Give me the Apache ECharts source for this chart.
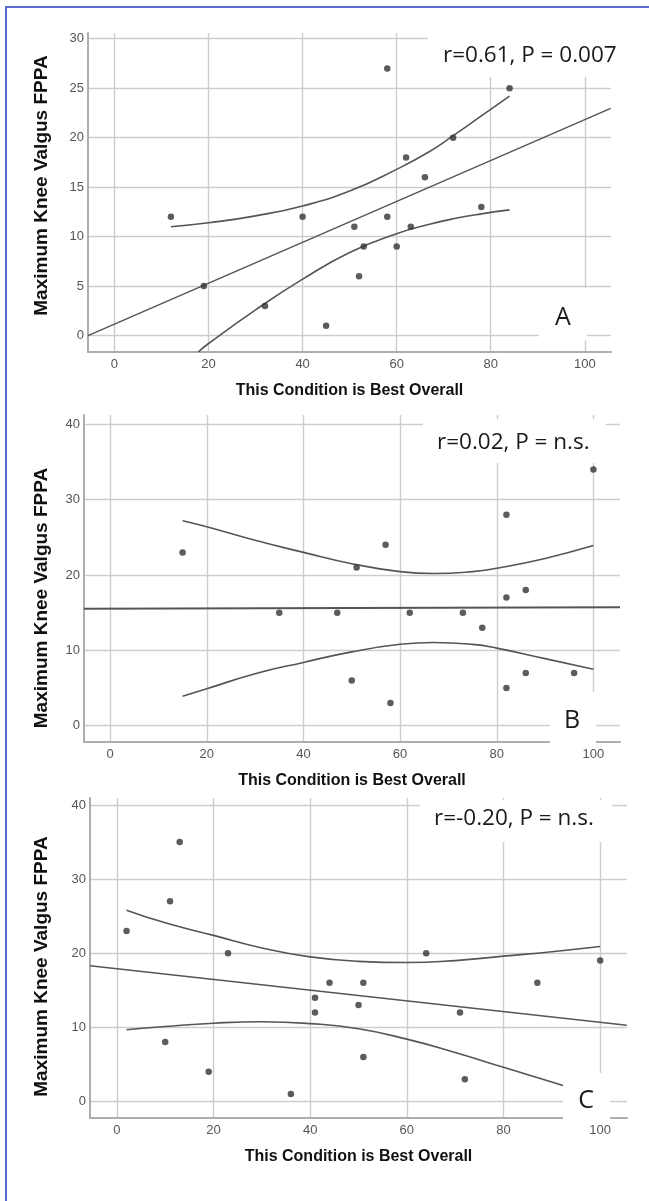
<!DOCTYPE html>
<html>
<head>
<meta charset="utf-8">
<script src="https://cdn.jsdelivr.net/npm/echarts@6/dist/echarts.min.js"></script>
<style>
  html, body { margin: 0; padding: 0; background: #fff; }
  #frame { position: absolute; left: 5px; top: 6px; width: 644px; height: 1195px; border-left: 2px solid #5b6dcc; border-top: 2px solid #5b6dcc; }
  #chart { position: absolute; left: 0; top: 0; width: 649px; height: 1201px; }
</style>
</head>
<body>
<div id="frame"></div>
<div id="chart"></div>
<script>
// tick labels
const xTicks = [0, 20, 40, 60, 80, 100]
const yTicksA = [0, 5, 10, 15, 20, 25, 30]
const yTicksBC = [0, 10, 20, 30, 40]

// panel A: points
const xA = [12, 19, 32, 40, 45, 51, 52, 53, 58, 58, 60, 62, 63, 66, 72, 78, 84]
const yA = [12, 5, 3, 12, 1, 11, 6, 9, 27, 12, 9, 18, 11, 16, 20, 13, 25]
// panel A: fit line and confidence band
const fitA = [[-5.63, 0], [105.5, 22.96]]
const upA = [[12, 11.0], [20, 11.4], [30, 12.1], [40, 13.1], [50, 14.6], [60, 16.8], [67, 18.6], [72, 20.2], [78, 22.2], [84, 24.2]]
const lowA = [[17.8, -1.66], [20, -0.8], [30, 2.6], [40, 5.7], [50, 8.4], [60, 10.3], [67, 11.25], [72, 11.8], [78, 12.3], [84, 12.7]]

// panel B
const xB = [15, 35, 47, 50, 51, 57, 58, 62, 73, 77, 82, 82, 82, 86, 86, 96, 100]
const yB = [23, 15, 15, 6, 21, 24, 3, 15, 15, 13, 28, 17, 5, 18, 7, 7, 34]
const fitB = [[-5.4, 15.51], [105.5, 15.73]]
const upB = [[15, 27.2], [20, 26.4], [30, 24.6], [40, 23.0], [50, 21.5], [60, 20.45], [67, 20.2], [75, 20.45], [80, 20.9], [90, 22.2], [100, 23.9]]
const lowB = [[15, 3.9], [20, 4.9], [30, 6.9], [40, 8.4], [50, 9.8], [60, 10.8], [67, 11.05], [75, 10.8], [80, 10.3], [90, 8.9], [100, 7.5]]

// panel C
const xC = [2, 10, 11, 13, 19, 23, 36, 41, 41, 44, 50, 51, 51, 64, 71, 72, 87, 100]
const yC = [23, 8, 27, 35, 4, 20, 1, 14, 12, 16, 13, 16, 6, 20, 12, 3, 16, 19]
const fitC = [[-5.56, 18.29], [105.5, 10.29]]
const upC = [[2, 25.8], [10, 24.1], [20, 22.4], [30, 20.7], [40, 19.5], [50, 18.9], [60, 18.74], [70, 19.0], [80, 19.6], [90, 20.2], [100, 20.9]]
const lowC = [[2, 9.66], [10, 10.1], [20, 10.55], [30, 10.75], [40, 10.5], [50, 9.8], [60, 8.4], [70, 6.6], [80, 4.6], [92.5, 2.1]]

const labels = ['r=0.61, P = 0.007', 'r=0.02, P = n.s.', 'r=-0.20, P = n.s.']
const letters = ['A', 'B', 'C']

const zip = (xs, ys) => xs.map((x, i) => [x, ys[i]])

const tickFont = "'Liberation Sans Narrow', 'Liberation Sans', Arial, sans-serif"
const grids = [
  { left: 88, top: 33, width: 523, height: 319 },
  { left: 84, top: 415, width: 536, height: 327 },
  { left: 90, top: 798, width: 537, height: 320 }
]
const xRange = [[-5.63, 105.57], [-5.4, 105.5], [-5.56, 105.55]]
const yRange = [[-1.66, 30.58], [-2.16, 41.23], [-2.24, 40.94]]
const yTicks = [yTicksA, yTicksBC, yTicksBC]
const yNameGap = [37, 33, 39]
const yNamePad = [[0, 0, 0, 14], [0, 39, 0, 0], [0, 17, 0, 0]]

const axisLine = { show: true, onZero: false, lineStyle: { color: '#adadad', width: 2 } }
const splitLine = { show: true, lineStyle: { color: '#cdcdcd', width: 1.4 } }

const xAxes = grids.map((g, i) => ({
  type: 'value', gridIndex: i, min: xRange[i][0], max: xRange[i][1],
  name: 'This Condition is Best Overall', nameLocation: 'middle', nameGap: 31,
  nameTextStyle: { fontFamily: 'Liberation Sans', fontWeight: 'bold', fontSize: 16, color: '#111' },
  axisLine: axisLine, splitLine: splitLine,
  axisTick: { show: false, customValues: xTicks },
  axisLabel: { customValues: xTicks, fontFamily: tickFont, fontSize: 13, color: '#555', margin: 6 }
}))
const yAxes = grids.map((g, i) => ({
  type: 'value', gridIndex: i, min: yRange[i][0], max: yRange[i][1],
  name: 'Maximum Knee Valgus FPPA', nameLocation: 'middle', nameGap: yNameGap[i],
  nameTextStyle: { fontFamily: 'Liberation Sans', fontWeight: 'bold', fontSize: 19, color: '#111', padding: yNamePad[i] },
  axisLine: axisLine, splitLine: splitLine,
  axisTick: { show: false, customValues: yTicks[i] },
  axisLabel: { customValues: yTicks[i], fontFamily: tickFont, fontSize: 13, color: '#555', margin: 4 }
}))

const panels = [
  { pts: zip(xA, yA), fit: fitA, up: upA, low: lowA },
  { pts: zip(xB, yB), fit: fitB, up: upB, low: lowB },
  { pts: zip(xC, yC), fit: fitC, up: upC, low: lowC }
]
const series = []
panels.forEach((p, i) => {
  series.push({
    type: 'scatter', xAxisIndex: i, yAxisIndex: i, data: p.pts,
    symbolSize: 6.5, itemStyle: { color: '#333' }, z: 5
  })
  series.push({
    type: 'line', xAxisIndex: i, yAxisIndex: i, data: p.fit, showSymbol: false,
    lineStyle: { color: '#555', width: i === 1 ? 2 : 1.5 }
  })
  ;[p.up, p.low].forEach(d => {
    series.push({
      type: 'line', xAxisIndex: i, yAxisIndex: i, data: d, showSymbol: false,
      smooth: true,
      lineStyle: { color: '#555', width: 1.6 }
    })
  })
})

// white boxes behind the annotations, as in the original
const boxes = [
  [428, 28, 184, 49], [539, 288, 48, 52],
  [423, 419, 183, 44], [550, 692, 46, 53],
  [420, 800, 192, 42], [563, 1073, 47, 48]
]
const labelPos = [[443, 56], [437, 443], [434, 819]]
const letterPos = [[563, 318], [572, 721], [586, 1101]]
const graphic = boxes.map(b => ({
  type: 'rect', z: 50, shape: { x: b[0], y: b[1], width: b[2], height: b[3] }, style: { fill: '#fff' }
}))
labels.forEach((t, i) => {
  graphic.push({
    type: 'text', z: 51, x: labelPos[i][0], y: labelPos[i][1],
    style: { text: t, font: "22.5px 'Open Sans'", fill: '#1a1a1a', verticalAlign: 'middle' }
  })
  graphic.push({
    type: 'text', z: 51, x: letterPos[i][0], y: letterPos[i][1],
    style: { text: letters[i], font: "25px 'Open Sans'", fill: '#1a1a1a', align: 'center', verticalAlign: 'middle' }
  })
})

const chart = echarts.init(document.getElementById('chart'))
chart.setOption({
  animation: false,
  grid: grids,
  xAxis: xAxes,
  yAxis: yAxes,
  series: series,
  graphic: graphic
})
</script>
</body>
</html>
